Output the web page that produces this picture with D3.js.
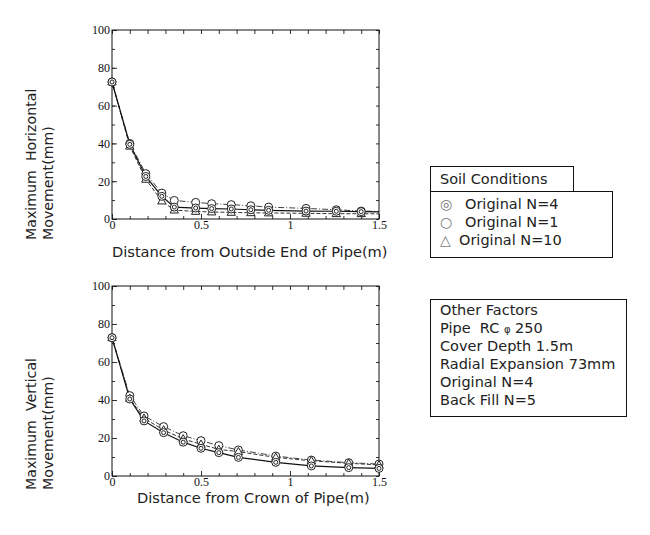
<!DOCTYPE html>
<html>
<head>
<meta charset="utf-8">
<script src="https://cdn.jsdelivr.net/npm/d3@7"></script>
<style>
  body { margin: 0; background: #fff; }
  svg text { font-family: "DejaVu Sans", Verdana, sans-serif; white-space: pre; }
  .tick text { font-family: "Liberation Serif", "Times New Roman", serif; font-size: 12px; }
</style>
</head>
<body>
<div id="chart"></div>
<script>
// horizontal movement vs distance from outside end of pipe
const hX   = [0, 0.1, 0.19, 0.28, 0.35, 0.47, 0.56, 0.67, 0.78, 0.88, 1.09, 1.26, 1.4, 1.5];
const hN4  = [72.5, 39.5, 22.5, 12, 6.3, 5.8, 5.5, 5.3, 4.9, 4.6, 4.2, 4.1, 3.9, 3.8];
const hN1  = [72.5, 40, 24, 13.7, 9.8, 8.8, 8.1, 7.6, 7, 6.3, 5.6, 4.9, 4.2, 4];
const hN10 = [72.5, 38.5, 21, 9.5, 4.7, 4, 3.7, 3.5, 3.3, 3.2, 3, 2.8, 2.8, 2.7];

// vertical movement vs distance from crown of pipe
const vX   = [0, 0.1, 0.18, 0.29, 0.4, 0.5, 0.6, 0.71, 0.92, 1.12, 1.33, 1.5];
const vN4  = [72.8, 40.5, 29, 22.8, 17.8, 14.6, 12.3, 9.8, 7.2, 5.3, 4.4, 4];
const vN1  = [72.8, 42.3, 31.6, 26, 21.2, 18.6, 16, 13.7, 10.5, 8.4, 7, 6.3];
const vN10 = [72.8, 40.8, 30.4, 24.2, 19.5, 16.7, 14, 12.8, 9.8, 8, 6.7, 5.8];

const xMajor = [0, 0.5, 1, 1.5];
const yMajor = [0, 20, 40, 60, 80, 100];

const legendTitle = "Soil Conditions";
const legendItems = [
  {sym: "\u25CE", label: "Original N=4"},
  {sym: "\u25CB", label: "Original N=1"},
  {sym: "\u25B3", label: "Original N=10"}
];
const factorLines = ["Other Factors", "Pipe  RC |\u03C6| 250", "Cover Depth 1.5m",
  "Radial Expansion 73mm", "Original N=4", "Back Fill N=5"];

const width = 650, height = 535;

const svg = d3.select("#chart")
  .append("svg")
  .attr("width", width)
  .attr("height", height);

function drawMarker(g, kind, cx, cy) {
  if (kind == "double") {
    g.append("circle").attr("cx", cx).attr("cy", cy).attr("r", 4)
      .attr("fill", "#fff").attr("stroke", "#222").attr("stroke-width", 1);
    g.append("circle").attr("cx", cx).attr("cy", cy).attr("r", 2)
      .attr("fill", "none").attr("stroke", "#222").attr("stroke-width", 1);
  } else if (kind == "circle") {
    g.append("circle").attr("cx", cx).attr("cy", cy).attr("r", 4)
      .attr("fill", "#fff").attr("stroke", "#222").attr("stroke-width", 1);
  } else {
    g.append("path")
      .attr("d", d3.symbol().type(d3.symbolTriangle).size(30)())
      .attr("transform", "translate(" + cx + "," + (cy + 0.5) + ")")
      .attr("fill", "#fff").attr("stroke", "#222").attr("stroke-width", 1);
  }
}

function drawPanel(opt) {
  const x = d3.scaleLinear().domain([0, 1.5]).range([112, 379]);
  const y = d3.scaleLinear().domain([0, 100]).range([opt.bottom, opt.top]);
  const g = svg.append("g");

  const xMinor = d3.range(0, 16).map(i => i / 10);
  const yMinor = d3.range(0, 11).map(i => i * 10);

  // minor ticks on all four sides
  g.append("g").attr("transform", "translate(0," + opt.bottom + ")")
    .call(d3.axisBottom(x).tickValues(xMinor).tickFormat("").tickSizeInner(-3).tickSizeOuter(0));
  g.append("g").attr("transform", "translate(0," + opt.top + ")")
    .call(d3.axisTop(x).tickValues(xMinor).tickFormat("").tickSizeInner(-4).tickSizeOuter(0));
  g.append("g").attr("transform", "translate(112,0)")
    .call(d3.axisLeft(y).tickValues(yMinor).tickFormat("").tickSizeInner(-3).tickSizeOuter(0));
  g.append("g").attr("transform", "translate(379,0)")
    .call(d3.axisRight(y).tickValues(yMinor).tickFormat("").tickSizeInner(-3).tickSizeOuter(0));

  // major ticks with labels
  g.append("g").attr("transform", "translate(0," + opt.bottom + ")")
    .call(d3.axisBottom(x).tickValues(xMajor).tickFormat(d3.format("")).tickSizeInner(-5).tickSizeOuter(0).tickPadding(1));
  g.append("g").attr("transform", "translate(112,0)")
    .call(d3.axisLeft(y).tickValues(yMajor).tickSizeInner(-5).tickSizeOuter(0).tickPadding(2));

  g.selectAll(".domain").remove();
  g.selectAll(".tick line").attr("stroke", "#333");
  g.selectAll(".tick text").attr("fill", "#111");

  g.append("rect")
    .attr("x", 112).attr("y", opt.top)
    .attr("width", 267).attr("height", opt.bottom - opt.top)
    .attr("fill", "none").attr("stroke", "#111").attr("stroke-width", 1);

  const line = d3.line().x(d => x(d[0])).y(d => y(d[1]));

  opt.series.forEach(s => {
    const pts = opt.xs.map((v, i) => [v, s.values[i]]);
    g.append("path")
      .datum(pts)
      .attr("d", line)
      .attr("fill", "none")
      .attr("stroke", s.color)
      .attr("stroke-width", s.width)
      .attr("stroke-dasharray", s.dash);
  });
  opt.series.forEach(s => {
    opt.xs.forEach((v, i) => {
      if (!opt.markLast && i == opt.xs.length - 1) return;
      drawMarker(g, s.marker, x(v), y(s.values[i]));
    });
  });

  // axis titles
  g.append("text")
    .attr("x", opt.xTitleX).attr("y", opt.xTitleY)
    .attr("font-size", 14.6).attr("fill", "#222")
    .text(opt.xTitle);
  opt.yTitle.forEach((t, i) => {
    g.append("text")
      .attr("transform", "translate(" + (36 + i * 17) + "," + opt.yTitleStart + ") rotate(-90)")
      .attr("font-size", 14.2).attr("fill", "#222")
      .text(t);
  });
}

drawPanel({
  top: 30, bottom: 219, xs: hX, markLast: false,
  series: [
    {values: hN1, marker: "circle", dash: "6,2,1,2", color: "#444", width: 1},
    {values: hN10, marker: "triangle", dash: "4,2", color: "#333", width: 1},
    {values: hN4, marker: "double", dash: null, color: "#111", width: 1.2}
  ],
  xTitle: "Distance from Outside End of Pipe(m)", xTitleX: 112, xTitleY: 257,
  yTitle: ["Maximum  Horizontal", "Movement(mm)"], yTitleStart: 240
});

drawPanel({
  top: 286, bottom: 476, xs: vX, markLast: true,
  series: [
    {values: vN1, marker: "circle", dash: "6,2,1,2", color: "#444", width: 1},
    {values: vN10, marker: "triangle", dash: "4,2", color: "#333", width: 1},
    {values: vN4, marker: "double", dash: null, color: "#111", width: 1.2}
  ],
  xTitle: "Distance from Crown of Pipe(m)", xTitleX: 137, xTitleY: 503,
  yTitle: ["Maximum  Vertical", "Movement(mm)"], yTitleStart: 490
});

// soil conditions legend
const lg = svg.append("g");
lg.append("rect").attr("x", 430.5).attr("y", 166.5).attr("width", 143).attr("height", 25)
  .attr("fill", "#fff").attr("stroke", "#111");
lg.append("rect").attr("x", 430.5).attr("y", 191.5).attr("width", 182).attr("height", 66)
  .attr("fill", "#fff").attr("stroke", "#111");
lg.append("text").attr("x", 440).attr("y", 184).attr("font-size", 14.5).attr("fill", "#222")
  .text(legendTitle);
lg.selectAll(".item")
  .data(legendItems)
  .join("g")
  .each(function(d, i) {
    const row = d3.select(this);
    const yy = 209 + i * 18;
    row.append("text").attr("x", 440).attr("y", yy).attr("font-size", 14)
      .attr("fill", "#777").text(d.sym);
    row.append("text").attr("x", i == 2 ? 459 : 465).attr("y", yy).attr("font-size", 14.5)
      .attr("fill", "#222").text(d.label);
  });

// other factors box
const fg = svg.append("g");
fg.append("rect").attr("x", 430.5).attr("y", 299.5).attr("width", 196).attr("height", 117)
  .attr("fill", "#fff").attr("stroke", "#111");
fg.selectAll("text")
  .data(factorLines)
  .join("text")
  .attr("x", 440)
  .attr("y", (d, i) => 315 + i * 18)
  .attr("font-size", 14.5)
  .attr("fill", "#222")
  .each(function(d) {
    // the phi sign is set smaller, between "|" marks
    const parts = d.split("|");
    const t = d3.select(this);
    parts.forEach((p, k) => {
      t.append("tspan").attr("font-size", k == 1 ? 10 : null).text(p);
    });
  });
</script>
</body>
</html>
